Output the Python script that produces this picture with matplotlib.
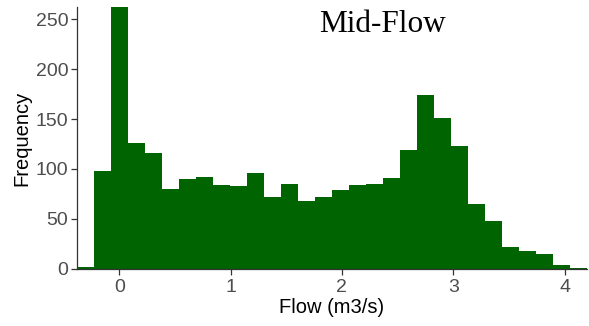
import matplotlib
matplotlib.use("Agg")
import matplotlib.pyplot as plt
import numpy as np

plt.rcParams["font.family"] = ["Liberation Sans", "DejaVu Sans"]

# histogram: 30 bins over the flow range, counts
bin_lo, bin_hi, n_bins = -0.377, 4.199, 30
counts = [2, 98, 262, 126, 116, 80, 90, 92, 84, 83,
          96, 72, 85, 68, 72, 79, 84, 85, 91, 119,
          174, 151, 123, 65, 48, 22, 18, 15, 4, 1]
x_ticks = [0, 1, 2, 3, 4]
y_ticks = [0, 50, 100, 150, 200, 250]

edges = np.linspace(bin_lo, bin_hi, n_bins + 1)
GREEN = "#006400"
TICK_GREY = "#4D4D4D"

fig = plt.figure(figsize=(5.89, 3.26), dpi=100)
ax = fig.add_axes([77.3 / 589, 1 - 268.7 / 326, (586.7 - 77.3) / 589, (268.7 - 7.3) / 326])
ax.bar(edges[:-1], counts, width=np.diff(edges), align="edge",
       color=GREEN, edgecolor="none")

ax.set_xlim(bin_lo, bin_hi)
ax.set_ylim(0, max(counts))
ax.set_xticks(x_ticks)
ax.set_yticks(y_ticks)
for s in ["top", "right"]:
    ax.spines[s].set_visible(False)
for s in ["left", "bottom"]:
    ax.spines[s].set_color("#333333")
    ax.spines[s].set_linewidth(0.9)
ax.tick_params(length=4, width=0.9, color="#333333", labelcolor=TICK_GREY,
               labelsize=14)
ax.tick_params(axis="x", pad=3.5)
ax.tick_params(axis="y", pad=2.5)
ax.set_xlabel("Flow (m3/s)", fontsize=14.5, color="black", labelpad=1)
ax.set_ylabel("Frequency", fontsize=14.5, color="black", labelpad=3)

fig.text(383 / 589, 1 - 24 / 326, "Mid-Flow", family="Liberation Serif",
         fontsize=22.5, ha="center", va="center", color="black")

fig.savefig("out.png", dpi=100, facecolor="white")
